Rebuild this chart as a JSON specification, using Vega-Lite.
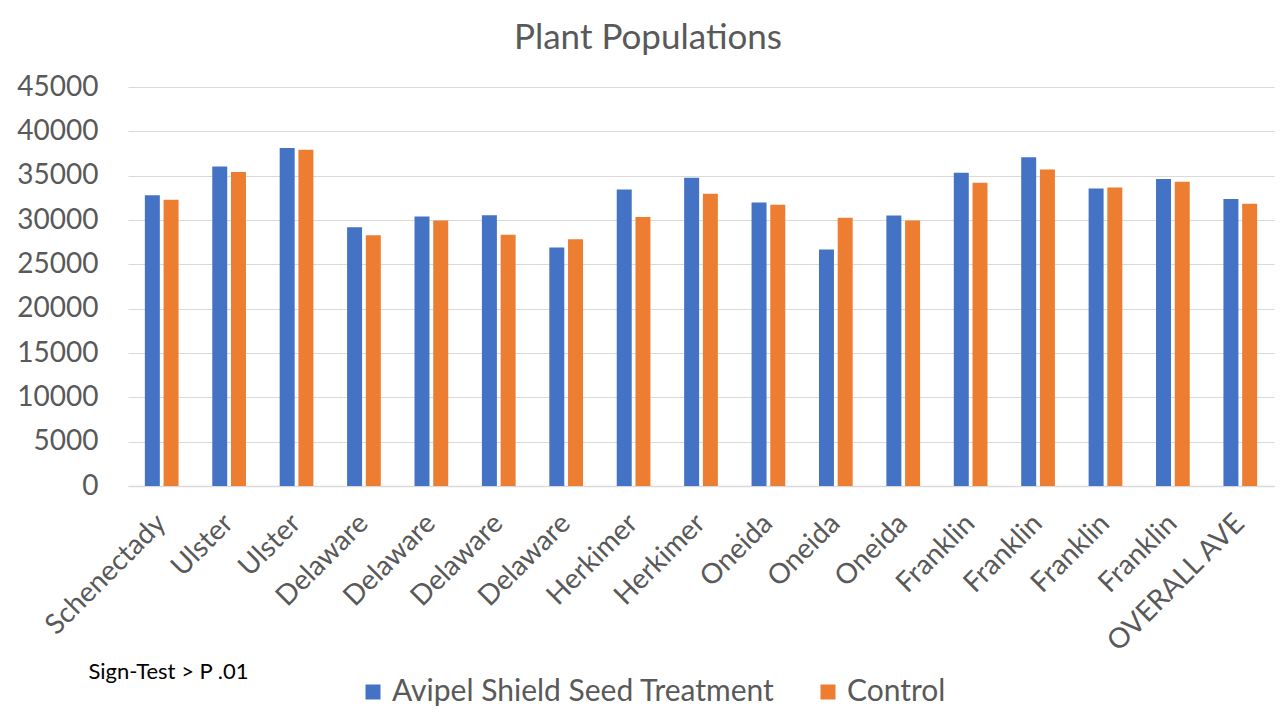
{
  "$schema": "https://vega.github.io/schema/vega-lite/v6.json",
  "autosize": {"type": "none"},
  "width": 1146,
  "height": 399,
  "padding": {"left": 128, "top": 87, "right": 12, "bottom": 235},
  "background": "white",
  "title": {
    "text": "Plant Populations",
    "font": "Lato",
    "fontSize": 35,
    "fontWeight": "normal",
    "color": "#595959",
    "anchor": "middle",
    "offset": 17,
    "dx": -53
  },
  "data": {
    "values": [
      {"site": "Schenectady#1", "series": "Avipel Shield Seed Treatment", "value": 32800},
      {"site": "Schenectady#1", "series": "Control", "value": 32270},
      {"site": "Ulster#2", "series": "Avipel Shield Seed Treatment", "value": 36030},
      {"site": "Ulster#2", "series": "Control", "value": 35400},
      {"site": "Ulster#3", "series": "Avipel Shield Seed Treatment", "value": 38110},
      {"site": "Ulster#3", "series": "Control", "value": 37920},
      {"site": "Delaware#4", "series": "Avipel Shield Seed Treatment", "value": 29190},
      {"site": "Delaware#4", "series": "Control", "value": 28280},
      {"site": "Delaware#5", "series": "Avipel Shield Seed Treatment", "value": 30390},
      {"site": "Delaware#5", "series": "Control", "value": 29940},
      {"site": "Delaware#6", "series": "Avipel Shield Seed Treatment", "value": 30540},
      {"site": "Delaware#6", "series": "Control", "value": 28350},
      {"site": "Delaware#7", "series": "Avipel Shield Seed Treatment", "value": 26890},
      {"site": "Delaware#7", "series": "Control", "value": 27830},
      {"site": "Herkimer#8", "series": "Avipel Shield Seed Treatment", "value": 33440},
      {"site": "Herkimer#8", "series": "Control", "value": 30350},
      {"site": "Herkimer#9", "series": "Avipel Shield Seed Treatment", "value": 34760},
      {"site": "Herkimer#9", "series": "Control", "value": 32950},
      {"site": "Oneida#10", "series": "Avipel Shield Seed Treatment", "value": 31970},
      {"site": "Oneida#10", "series": "Control", "value": 31710},
      {"site": "Oneida#11", "series": "Avipel Shield Seed Treatment", "value": 26660},
      {"site": "Oneida#11", "series": "Control", "value": 30240},
      {"site": "Oneida#12", "series": "Avipel Shield Seed Treatment", "value": 30500},
      {"site": "Oneida#12", "series": "Control", "value": 29940},
      {"site": "Franklin#13", "series": "Avipel Shield Seed Treatment", "value": 35320},
      {"site": "Franklin#13", "series": "Control", "value": 34190},
      {"site": "Franklin#14", "series": "Avipel Shield Seed Treatment", "value": 37090},
      {"site": "Franklin#14", "series": "Control", "value": 35690},
      {"site": "Franklin#15", "series": "Avipel Shield Seed Treatment", "value": 33550},
      {"site": "Franklin#15", "series": "Control", "value": 33660},
      {"site": "Franklin#16", "series": "Avipel Shield Seed Treatment", "value": 34610},
      {"site": "Franklin#16", "series": "Control", "value": 34300},
      {"site": "OVERALL AVE#17", "series": "Avipel Shield Seed Treatment", "value": 32380},
      {"site": "OVERALL AVE#17", "series": "Control", "value": 31820}
    ]
  },
  "mark": {"type": "bar"},
  "encoding": {
    "x": {
      "field": "site",
      "type": "nominal",
      "sort": null,
      "scale": {"paddingInner": 0.5, "paddingOuter": 0.25},
      "axis": {
        "title": "Sign-Test > P .01",
        "titleFont": "Lato",
        "titleFontSize": 22,
        "titleFontWeight": "normal",
        "titleColor": "#000000",
        "titleAnchor": "start",
        "titleAlign": "left",
        "titleBaseline": "alphabetic",
        "titleX": -40,
        "titleY": 192,
        "labelExpr": "split(datum.value, '#')[0]",
        "labelAngle": -45,
        "labelAlign": "right",
        "labelBaseline": "middle",
        "labelFont": "Lato",
        "labelFontSize": 28,
        "labelColor": "#595959",
        "labelPadding": 33,
        "labelLimit": 400,
        "labelOverlap": false,
        "ticks": false,
        "domainColor": "#d9d9d9",
        "domainWidth": 1.5,
        "grid": false
      }
    },
    "xOffset": {
      "field": "series",
      "type": "nominal",
      "scale": {"paddingInner": 0.2, "paddingOuter": 0}
    },
    "y": {
      "field": "value",
      "type": "quantitative",
      "scale": {"domain": [0, 45000], "nice": false},
      "axis": {
        "title": null,
        "values": [0, 5000, 10000, 15000, 20000, 25000, 30000, 35000, 40000, 45000],
        "format": "d",
        "labelFont": "Lato",
        "labelFontSize": 28,
        "labelColor": "#595959",
        "labelPadding": 30,
        "ticks": false,
        "domain": false,
        "gridColor": "#d9d9d9",
        "gridWidth": 1
      }
    },
    "color": {
      "field": "series",
      "type": "nominal",
      "scale": {
        "domain": ["Avipel Shield Seed Treatment", "Control"],
        "range": ["#4472C4", "#ED7D31"]
      },
      "legend": {
        "title": null,
        "orient": "none",
        "direction": "horizontal",
        "legendX": 230,
        "legendY": 590,
        "symbolType": "square",
        "symbolSize": 225,
        "symbolStrokeWidth": 0,
        "labelFont": "Lato",
        "labelFontSize": 30,
        "labelColor": "#595959",
        "labelOffset": 4,
        "labelLimit": 0,
        "columnPadding": 38
      }
    }
  },
  "config": {
    "view": {"stroke": null}
  }
}
